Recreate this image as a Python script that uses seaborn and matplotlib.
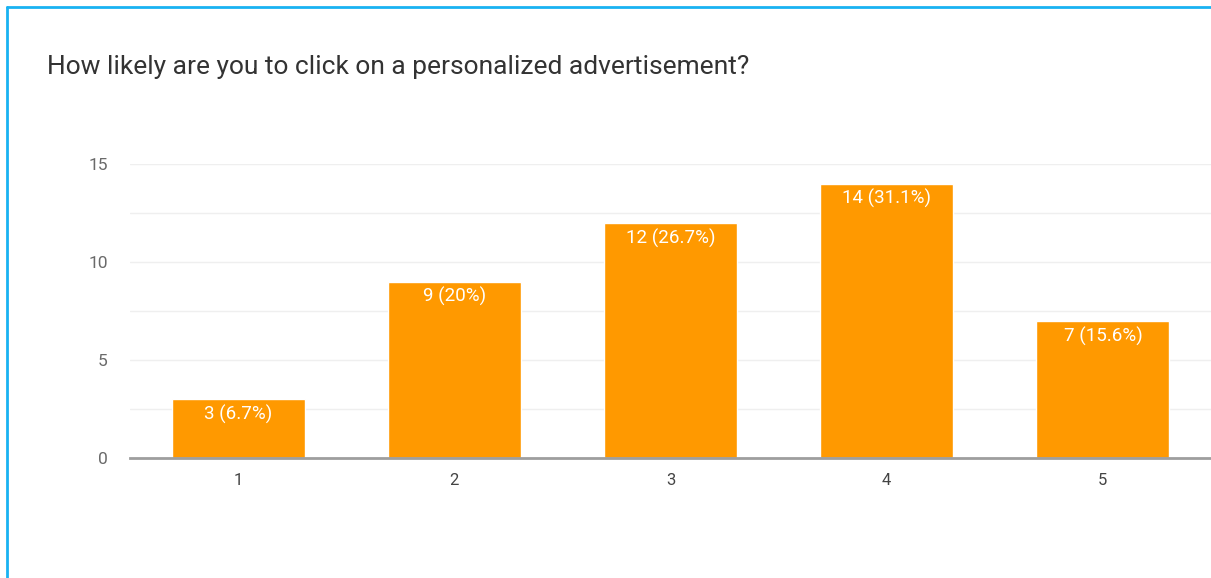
import matplotlib
matplotlib.use("Agg")
import matplotlib.pyplot as plt
from matplotlib.lines import Line2D
import seaborn as sns
import pandas as pd

# Survey responses on a 1-5 likelihood scale
ratings = ["1", "2", "3", "4", "5"]
counts = [3, 9, 12, 14, 7]
title = "How likely are you to click on a personalized advertisement?"

total = sum(counts)


def pct_text(n):
    p = round(100 * n / total, 1)
    s = f"{p:.1f}".rstrip("0").rstrip(".")
    return f"{n} ({s}%)"


df = pd.DataFrame({"rating": ratings, "count": counts})

sns.set_theme(style="white")
plt.rcParams["font.family"] = ["Roboto", "DejaVu Sans"]

W, H = 1211, 578
fig = plt.figure(figsize=(W / 100, H / 100), dpi=100)
fig.patch.set_facecolor("white")

ax = fig.add_axes([130 / W, 1 - 458 / H, (W - 130) / W, (458 - 164) / H])
sns.barplot(data=df, x="rating", y="count", color="#FF9900", saturation=1,
            width=0.615, ax=ax)

ax.set_xlim(-0.5, 4.5)
ax.set_ylim(0, 15)
ax.set_yticks([0, 5, 10, 15])
ax.set_yticks([2.5, 7.5, 12.5], minor=True)
ax.set_axisbelow(True)
ax.grid(axis="y", which="both", color="#efefef", linewidth=1.0)
ax.grid(axis="x", visible=False)
for side in ["top", "right", "left"]:
    ax.spines[side].set_visible(False)
ax.spines["bottom"].set_color("#9e9e9e")
ax.spines["bottom"].set_linewidth(2)
ax.spines["bottom"].set_zorder(5)
ax.set_xlabel("")
ax.set_ylabel("")
ax.tick_params(axis="y", which="both", length=0, pad=16, labelsize=12.5,
               labelcolor="#6a6a6a")
ax.tick_params(axis="x", length=0, pad=11, labelsize=12, labelcolor="#444444")

for i, n in enumerate(counts):
    ax.annotate(pct_text(n), (i, n), xytext=(0, -4), textcoords="offset points",
                ha="center", va="top", color="white", fontsize=13.5)

fig.text(47 / W, 1 - 67 / H, title, ha="left", va="center",
         fontsize=19, color="#333333")

# Blue frame along the top and left edges
fig.add_artist(Line2D([7 / W, 1], [1 - 7 / H, 1 - 7 / H], color="#19b2f2",
                      linewidth=2, transform=fig.transFigure))
fig.add_artist(Line2D([7 / W, 7 / W], [0, 1 - 7 / H], color="#19b2f2",
                      linewidth=2, transform=fig.transFigure))

fig.savefig("out.png", dpi=100, facecolor="white")
